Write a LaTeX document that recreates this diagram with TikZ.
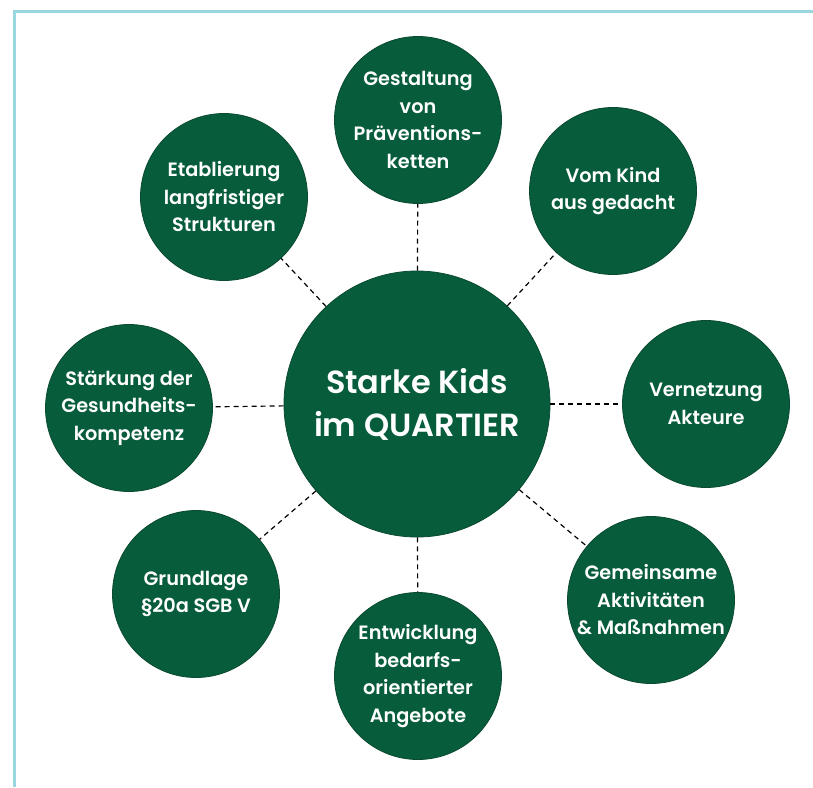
\documentclass[tikz,border=0pt]{standalone}
\usepackage{fontspec}
\IfFontExistsTF{Poppins SemiBold}{\setmainfont{Poppins SemiBold}}{%
  \IfFontExistsTF{Poppins Medium}{\setmainfont{Poppins Medium}}{\setmainfont{Poppins}[UprightFont=*-Bold]}}
\definecolor{kgreen}{HTML}{065C3B}
\definecolor{kborder}{HTML}{0B4A30}
\definecolor{kline}{HTML}{97D7DD}
\tikzset{
  sat/.style={circle, fill=kgreen, draw=kborder, line width=0.8pt, minimum size=167pt,
    inner sep=0pt, text=white, align=center, font=\fontsize{19.3}{27.5}\selectfont},
  hub/.style={sat, minimum size=266pt, font=\fontsize{32}{43}\selectfont},
  link/.style={draw=black, line width=1.2pt, dash pattern=on 5pt off 4pt},
  frameline/.style={draw=kline, line width=2.2pt}
}
\begin{document}
\begin{tikzpicture}[x=1pt,y=-1pt]
\useasboundingbox (0,0) rectangle (813,787);
\coordinate (fa) at (14.5,787);
\coordinate (fb) at (14.5,11.5);
\coordinate (fc) at (813,11.5);
\draw[frameline] (fa) -- (fb) -- (fc);

\node[hub] (hub) at (417,404) {Starke Kids\\im QUARTIER};

\node[sat] (n1) at (418,120) {Gestaltung\\von\\Präventions-\\ketten};
\node[sat] (n2) at (613,191) {Vom Kind\\aus gedacht};
\node[sat] (n3) at (706,404) {Vernetzung\\Akteure};
\node[sat] (n4) at (651,600) {Gemeinsame\\Aktivitäten\\\& Maßnahmen};
\node[sat] (n5) at (418,676) {Entwicklung\\bedarfs-\\orientierter\\Angebote};
\node[sat] (n6) at (196,594) {Grundlage\\§20a SGB V};
\node[sat] (n7) at (129,408) {Stärkung der\\Gesundheits-\\kompetenz};
\node[sat] (n8) at (224,197) {Etablierung\\langfristiger\\Strukturen};

\foreach \n in {n1,n2,n3,n4,n5,n6,n7,n8}
  \draw[link] (hub) -- (\n);
\end{tikzpicture}
\end{document}
